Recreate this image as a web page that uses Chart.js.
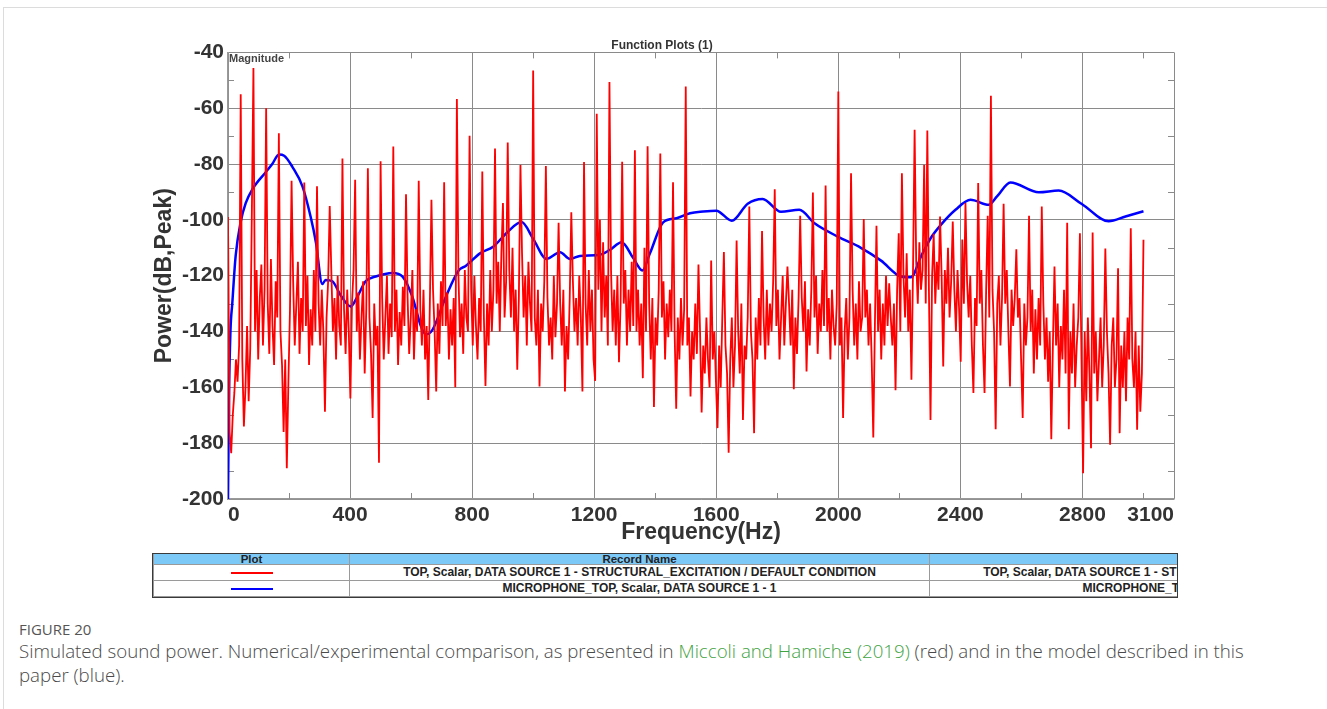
<!DOCTYPE html>
<html>
<head>
<meta charset="utf-8">
<script src="https://cdn.jsdelivr.net/npm/chart.js@4.4.0/dist/chart.umd.min.js"></script>
<style>
  body { margin: 0; background: #fff; width: 1327px; height: 709px; overflow: hidden; position: relative; font-family: 'Liberation Sans', Arial, sans-serif; }
  #frame { position: absolute; left: 3px; top: 7px; width: 1340px; height: 720px; border: 1px solid #dcdcdc; }
  #chartBox { position: absolute; left: 150px; top: 30px; width: 1030px; height: 520px; }
  #legendBox { position: absolute; left: 152px; top: 553px; width: 1024px; height: 43px; overflow: hidden; border: 1.5px solid #3a3a3a; }
  #legendBox table { border-collapse: collapse; table-layout: fixed; width: 1356px; font-weight: bold; color: #222; }
  #legendBox td { border: 1px solid #9a9a9a; text-align: center; padding: 0; white-space: nowrap; overflow: hidden; }
  #legendBox tr.head td { background: #7cc8f7; height: 10px; font-size: 11.5px; line-height: 10px; border-top: none; }
  #legendBox tr.row td { height: 15px; font-size: 12px; line-height: 15px; }
  .swatch { display: inline-block; width: 42px; height: 2.5px; vertical-align: middle; }
  #caption { position: absolute; left: 19px; top: 619px; width: 1240px; font-family: 'Open Sans', sans-serif; color: #4a4a4a; }
  #caption .fig { font-size: 15px; line-height: 20px; color: #555; }
  #caption .txt { font-size: 18.7px; line-height: 24px; font-weight: 300; }
  #caption a { color: #3fa33f; text-decoration: none; }
</style>
</head>
<body>
<div id="frame"></div>
<div id="chartBox"><canvas id="powerChart"></canvas></div>
<div id="legendBox">
  <table>
    <colgroup><col style="width:196px"><col style="width:580px"><col style="width:580px"></colgroup>
    <tr class="head"><td>Plot</td><td>Record Name</td><td></td></tr>
    <tr class="row"><td><span class="swatch" style="background:#ff0000"></span></td><td>TOP, Scalar, DATA SOURCE 1 - STRUCTURAL_EXCITATION / DEFAULT CONDITION</td><td>TOP, Scalar, DATA SOURCE 1 - STRUCTURAL_EXCITATION / DEFAULT CONDITION</td></tr>
    <tr class="row"><td><span class="swatch" style="background:#0000ff"></span></td><td>MICROPHONE_TOP, Scalar, DATA SOURCE 1 - 1</td><td>MICROPHONE_TOP, Scalar, DATA SOURCE 1 - 1</td></tr>
  </table>
</div>
<div id="caption">
  <div class="fig">FIGURE 20</div>
  <div class="txt">Simulated sound power. Numerical/experimental comparison, as presented in <a>Miccoli and Hamiche (2019)</a> (red) and in the model described in this paper (blue).</div>
</div>
<script>
// axis ticks
const xTicks = [0, 400, 800, 1200, 1600, 2000, 2400, 2800, 3100];
const xMinor = [200, 600, 1000, 1400, 1800, 2200, 2600, 3000];
const yMinor = [-190, -170, -150, -130, -110, -90, -70, -50];

// red: measured spectrum, bins of 125/24 Hz from 0 Hz
// every 8th bin is a harmonic of 41.7 Hz (one row per harmonic)
const redStepHz = 125 / 24;
const redDb = [
  -99, -176, -183.6, -170, -162, -150, -158, -145,
  -55, -150, -174, -160, -138, -165, -146, -97.6,
  -45.6, -140, -118, -150, -128, -116, -145, -125,
  -60, -130, -148, -114, -138, -152, -122, -135,
  -69, -140, -152, -176, -150, -189, -158, -132,
  -86, -122, -145, -130, -115, -148, -128, -140,
  -86.6, -138, -120, -152, -132, -145, -118, -140,
  -88, -130, -145, -125, -140, -168.7, -135, -122,
  -95, -118, -140, -128, -150, -120, -138, -145,
  -78, -132, -148, -125, -140, -164, -130, -118,
  -85.6, -140, -126, -150, -135, -122, -155, -132,
  -81.5, -135, -148, -171, -130, -145, -138, -187,
  -79, -128, -150, -135, -120, -148, -130, -142,
  -73.7, -140, -125, -152, -133, -145, -124, -138,
  -90.8, -128, -148, -135, -118, -150, -132, -140,
  -86, -132, -145, -125, -150, -138, -164.5, -130,
  -92.8, -125, -140, -161.5, -130, -148, -122, -138,
  -86.5, -138, -126, -150, -132, -145, -128, -160,
  -56.7, -120, -142, -130, -148, -118, -135, -140,
  -69.9, -125, -145, -120, -138, -150, -128, -140,
  -82.7, -135, -159.5, -130, -145, -118, -140, -125,
  -74.4, -130, -115, -140, -112, -94, -135, -122,
  -72.3, -118, -135, -110, -140, -125, -153.7, -128,
  -80.3, -112, -135, -120, -145, -115, -130, -140,
  -46.5, -135, -145, -125, -159.7, -130, -140, -122,
  -80.7, -128, -145, -135, -150, -120, -142, -130,
  -101, -130, -145, -125, -161.5, -138, -150, -128,
  -97.3, -122, -140, -128, -145, -120, -135, -161.5,
  -79.3, -130, -145, -118, -140, -125, -150, -157.7,
  -62, -125, -100, -140, -108, -135, -120, -145,
  -50.6, -118, -140, -125, -145, -120, -151, -130,
  -79.2, -130, -118, -145, -125, -140, -115, -138,
  -75.1, -140, -125, -145, -130, -156.7, -110, -140,
  -73.6, -130, -150, -128, -167, -135, -145, -125,
  -76.2, -135, -122, -150, -130, -142, -125, -140,
  -86.5, -140, -167.7, -135, -150, -128, -145, -132,
  -52.2, -145, -135, -163.3, -140, -150, -130, -148,
  -116, -140, -169, -145, -155, -135, -150, -160,
  -114.6, -150, -140, -158, -174.6, -145, -160, -135,
  -111.5, -145, -155, -183.4, -150, -135, -160, -145,
  -107.4, -140, -155, -130, -171.7, -145, -150, -135,
  -95.2, -140, -150, -176.4, -135, -150, -128, -145,
  -104, -135, -150, -125, -145, -130, -140, -122,
  -89, -138, -125, -150, -135, -120, -145, -130,
  -116.7, -130, -145, -125, -160.7, -135, -148, -128,
  -98.5, -128, -140, -122, -154.3, -132, -145, -125,
  -90.2, -135, -120, -148, -130, -140, -118, -138,
  -87.7, -140, -128, -150, -125, -138, -145, -130,
  -54, -145, -135, -171, -140, -128, -150, -135,
  -83.3, -125, -145, -130, -150, -122, -140, -135,
  -99.7, -135, -125, -145, -130, -150, -178, -138,
  -102.1, -140, -125, -150, -130, -145, -120, -138,
  -122.7, -135, -145, -130, -161, -125, -104.8, -140,
  -83.3, -120, -135, -112, -140, -125, -157.3, -118,
  -67.7, -115, -130, -108, -125, -118, -80.3, -130,
  -68, -125, -171.7, -120, -105, -130, -115, -125,
  -98.8, -120, -152.5, -118, -130, -110, -135, -122,
  -100.6, -125, -140, -118, -132, -150.8, -107, -130,
  -94, -122, -135, -120, -145, -162, -128, -138,
  -86.8, -130, -118, -145, -162, -125, -98.5, -135,
  -55.5, -125, -140, -175, -130, -120, -145, -128,
  -94.2, -130, -118, -140, -159.7, -125, -138, -128,
  -110.5, -135, -128, -150, -171, -130, -145, -135,
  -98.5, -140, -125, -155, -132, -150, -128, -145,
  -95.2, -130, -150, -135, -158, -140, -178.6, -145,
  -116.7, -145, -130, -160, -138, -150, -125, -155,
  -101, -175, -140, -155, -130, -160, -145, -135,
  -104.8, -150, -190.8, -140, -165, -135, -155, -181.8,
  -104.5, -155, -140, -165, -150, -135, -160, -145,
  -110.3, -140, -155, -180.6, -145, -135, -160, -150,
  -117.3, -176.4, -145, -160, -140, -165, -135, -150,
  -103, -150, -160, -140, -175.2, -145, -168.7, -155,
  -107.1
];

// blue: model curve
const blueHz = [0, 3, 8, 14, 25, 41, 58, 80, 123, 145, 167, 184, 211, 244, 271, 288, 309, 320, 342, 369,
  402, 424, 451, 484, 539, 572, 604, 632, 648, 670, 714, 757, 779, 826, 870, 913, 962, 1001, 1044, 1088,
  1121, 1153, 1219, 1252, 1290, 1328, 1358, 1383, 1426, 1470, 1514, 1557, 1600, 1651, 1703, 1752, 1812,
  1872, 1922, 1998, 2074, 2140, 2205, 2238, 2271, 2303, 2336, 2384, 2433, 2493, 2520, 2564, 2657, 2722,
  2799, 2886, 2941, 3000];
const blueDb = [-200, -165, -140, -130, -113, -101, -94, -89, -83, -80, -76.6, -77, -81, -88, -99, -108, -123, -121.5, -122, -127,
  -131, -127.5, -122, -120.3, -119, -120.3, -127.5, -138, -141, -139.4, -127.5, -118, -116.5, -112, -109.5, -104.7, -100.8, -107, -114, -111.6,
  -114, -112.9, -112.5, -110.7, -108, -113.7, -118.1, -111.9, -100.9, -99.4, -97.6, -97, -96.7, -100.3, -94.2, -92.5, -97.1,
  -96.4, -101.2, -106, -110, -114.6, -120.3, -120.6, -113.1, -106.5, -101.8, -96.4, -92.8, -94.6, -91.6, -86.6, -90.1, -89.5,
  -94.4, -100.5, -98.8, -96.9];

const redPoints = redDb.map((v, i) => ({ x: i * redStepHz, y: v }));
const bluePoints = blueHz.map((f, i) => ({ x: f, y: blueDb[i] }));

const FONT = "'Liberation Sans', Arial, sans-serif";

const plotDecor = {
  id: 'plotDecor',
  beforeDatasetsDraw(chart) {
    const { ctx, chartArea: a, scales: { x, y } } = chart;
    ctx.save();
    ctx.strokeStyle = '#8a8a8a';
    ctx.lineWidth = 1;
    ctx.beginPath();
    xMinor.forEach(v => {
      const px = Math.round(x.getPixelForValue(v)) + 0.5;
      ctx.moveTo(px, a.top); ctx.lineTo(px, a.top + 6);
      ctx.moveTo(px, a.bottom); ctx.lineTo(px, a.bottom - 6);
    });
    yMinor.forEach(v => {
      const py = Math.round(y.getPixelForValue(v)) + 0.5;
      ctx.moveTo(a.left, py); ctx.lineTo(a.left + 6, py);
      ctx.moveTo(a.right, py); ctx.lineTo(a.right - 6, py);
    });
    ctx.stroke();
    ctx.fillStyle = '#444';
    ctx.font = 'bold 11px ' + FONT;
    ctx.textBaseline = 'top';
    ctx.textAlign = 'left';
    ctx.fillText('Magnitude', a.left + 1, a.top + 1);
    ctx.restore();
  }
};

new Chart(document.getElementById('powerChart'), {
  type: 'line',
  data: {
    datasets: [
      {
        label: 'TOP, Scalar, DATA SOURCE 1 - STRUCTURAL_EXCITATION / DEFAULT CONDITION',
        data: redPoints,
        borderColor: '#ff0000',
        borderWidth: 1.8,
        pointRadius: 0,
        tension: 0
      },
      {
        label: 'MICROPHONE_TOP, Scalar, DATA SOURCE 1 - 1',
        data: bluePoints,
        borderColor: '#0000ff',
        borderWidth: 2.5,
        pointRadius: 0,
        cubicInterpolationMode: 'monotone'
      }
    ]
  },
  options: {
    responsive: true,
    maintainAspectRatio: false,
    animation: false,
    layout: { padding: { left: 0, right: 6, top: 0, bottom: 0 } },
    plugins: {
      legend: { display: false },
      tooltip: { enabled: false },
      title: {
        display: true,
        text: 'Function Plots (1)',
        color: '#333',
        font: { family: FONT, size: 12, weight: 'bold' },
        padding: { top: 8, bottom: 0 }
      }
    },
    scales: {
      x: {
        type: 'linear',
        min: 0,
        max: 3100,
        afterBuildTicks: scale => { scale.ticks = xTicks.map(v => ({ value: v })); },
        afterFit: scale => { scale.height = 51; },
        grid: { color: '#8a8a8a', lineWidth: 1, drawTicks: false },
        border: { color: '#999', width: 1.5 },
        ticks: {
          align: 'inner',
          padding: 4,
          color: '#333',
          maxRotation: 0,
          autoSkip: false,
          font: { family: FONT, size: 21, weight: 'bold' },
          callback: v => String(v)
        },
        title: {
          display: true,
          text: 'Frequency(Hz)',
          color: '#333',
          font: { family: FONT, size: 23, weight: 'bold' },
          padding: { top: 0, bottom: 4 }
        }
      },
      y: {
        min: -200,
        max: -40,
        afterFit: scale => { scale.width = 78; },
        grid: { color: '#8a8a8a', lineWidth: 1, drawTicks: false },
        border: { color: '#999', width: 1.5 },
        ticks: {
          stepSize: 20,
          padding: 4,
          color: '#333',
          font: { family: FONT, size: 21, weight: 'bold' },
          callback: v => String(v)
        },
        title: {
          display: true,
          text: 'Power(dB,Peak)',
          color: '#333',
          font: { family: FONT, size: 23, weight: 'bold' },
          padding: { top: 1, bottom: 0 }
        }
      }
    }
  },
  plugins: [plotDecor]
});
</script>
</body>
</html>
